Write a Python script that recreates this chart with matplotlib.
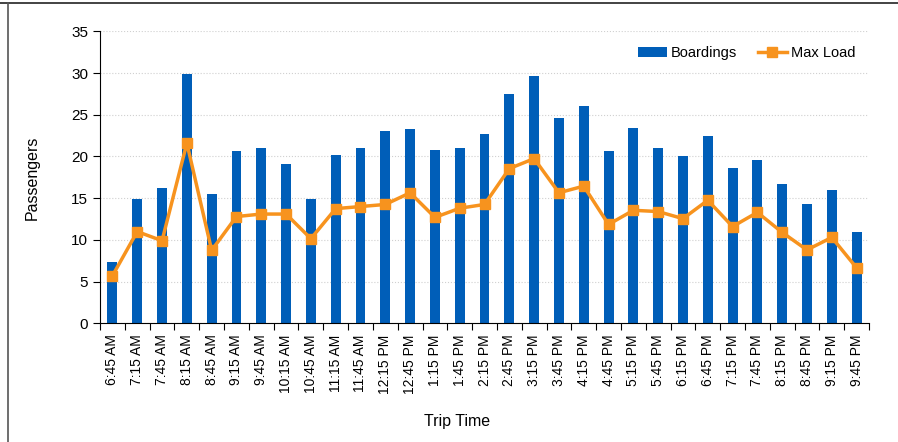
import matplotlib
matplotlib.use("Agg")
import matplotlib.pyplot as plt
from matplotlib.lines import Line2D
import numpy as np

plt.rcParams['font.family'] = ['Liberation Sans', 'DejaVu Sans']

# 班次时间
trip_times = ["6:45 AM", "7:15 AM", "7:45 AM", "8:15 AM", "8:45 AM", "9:15 AM",
              "9:45 AM", "10:15 AM", "10:45 AM", "11:15 AM", "11:45 AM",
              "12:15 PM", "12:45 PM", "1:15 PM", "1:45 PM", "2:15 PM",
              "2:45 PM", "3:15 PM", "3:45 PM", "4:15 PM", "4:45 PM",
              "5:15 PM", "5:45 PM", "6:15 PM", "6:45 PM", "7:15 PM",
              "7:45 PM", "8:15 PM", "8:45 PM", "9:15 PM", "9:45 PM"]

# 上车人数
boardings = [7.4, 14.9, 16.2, 29.9, 15.5, 20.7, 21.0, 19.1, 14.95, 20.2, 21.0,
             23.05, 23.35, 20.75, 21.0, 22.7, 27.5, 29.65, 24.65, 26.1, 20.6,
             23.4, 21.0, 20.1, 22.5, 18.6, 19.6, 16.65, 14.25, 15.95, 10.95]

# 最大载客量
max_load = [5.7, 11.0, 9.9, 21.6, 8.75, 12.8, 13.1, 13.1, 10.15, 13.75, 14.0,
            14.25, 15.65, 12.7, 13.8, 14.25, 18.55, 19.75, 15.65, 16.45, 11.85,
            13.55, 13.4, 12.55, 14.75, 11.6, 13.3, 10.9, 8.8, 10.3, 6.65]

bar_color = "#005EB8"
line_color = "#F7931E"

fig = plt.figure(figsize=(8.98, 4.42), dpi=100)
ax = fig.add_axes([0.1114, 0.2685, 0.8563, 0.6605])

x = np.arange(len(trip_times))
bars = ax.bar(x, boardings, width=0.4, color=bar_color, label="Boardings", zorder=2)
line, = ax.plot(x, max_load, color=line_color, lw=2.5, marker="s", markersize=7.5,
                label="Max Load", zorder=3)

ax.set_xlim(-0.5, len(trip_times) - 0.5)
ax.set_ylim(0, 35)
ax.set_yticks(np.arange(0, 36, 5))
ax.yaxis.grid(True, color="#d0d0d0", linestyle=":", lw=0.8, zorder=0)

# x 刻度线在类别之间，标签在类别中心
ax.set_xticks(x)
ax.set_xticklabels(trip_times, rotation=90, fontsize=10)
ax.tick_params(axis="x", which="major", length=0, pad=8)
ax.set_xticks(np.arange(-0.5, len(trip_times), 1), minor=True)
ax.tick_params(axis="x", which="minor", length=5, width=0.8, direction="out")
ax.tick_params(axis="y", labelsize=11, length=5, width=0.8, direction="out")

for s in ["top", "right"]:
    ax.spines[s].set_visible(False)
ax.spines["left"].set_linewidth(0.8)
ax.spines["bottom"].set_linewidth(0.8)

ax.set_ylabel("Passengers", fontsize=11.5, labelpad=23)
ax.set_xlabel("Trip Time", fontsize=11.5)
ax.xaxis.set_label_coords(0.464, -0.31)

ax.legend([bars, line], ["Boardings", "Max Load"], loc="upper right",
          bbox_to_anchor=(1.0, 0.995), ncol=2, frameon=False,
          fontsize=10.5, handlelength=2.0, columnspacing=1.4, handletextpad=0.3)

# 外框线（上、左）
fig.add_artist(Line2D([0, 1], [0.9925, 0.9925], color="#222222", lw=1.2))
fig.add_artist(Line2D([0.0092, 0.0092], [0, 0.9925], color="#555555", lw=1.2))

fig.savefig("out.png", dpi=100)
